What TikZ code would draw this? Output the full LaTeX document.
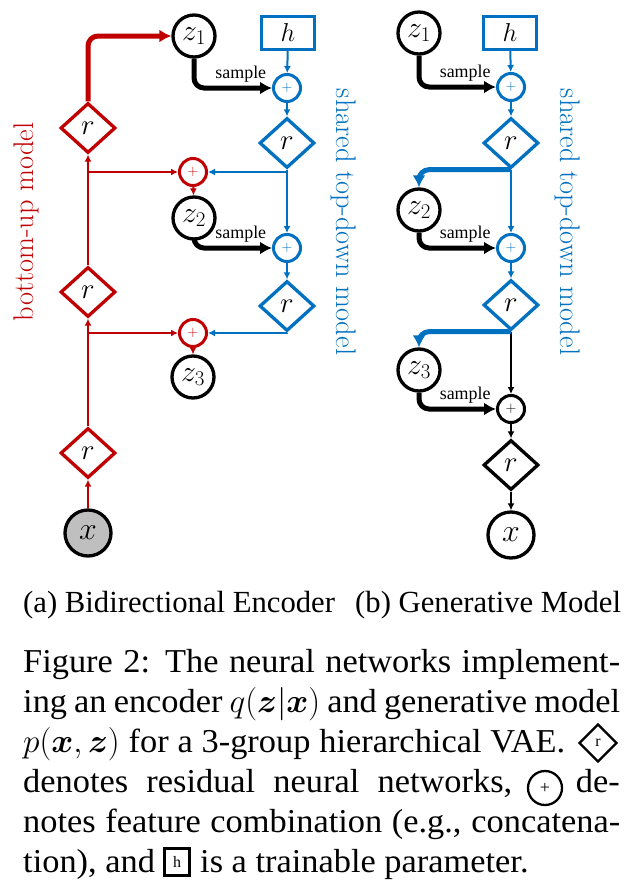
\RequirePackage{fix-cm}
\documentclass[tikz,border=0pt]{standalone}
\usepackage{amsmath}
\usepackage{fontspec}
\newfontfamily\capfont{Liberation Serif}
\newfontfamily\capwide[FakeStretch=1.03]{Liberation Serif}
\usetikzlibrary{shapes.geometric,arrows.meta}
\definecolor{encred}{RGB}{192,0,0}
\definecolor{decblue}{RGB}{0,112,192}
\definecolor{obsgray}{RGB}{191,191,191}

\begin{document}
\begin{tikzpicture}[x=1bp,y=-1bp,
  latent/.style={circle,draw=black,line width=3.3bp,minimum size=42bp,inner sep=0pt,font=\fontsize{30}{30}\selectfont},
  observed/.style={circle,draw=black,line width=3.3bp,minimum size=46bp,inner sep=0pt,font=\fontsize{32}{32}\selectfont},
  resblock/.style={diamond,draw=#1,line width=3.3bp,minimum width=55bp,minimum height=50bp,inner sep=0pt,font=\fontsize{29}{29}\selectfont},
  combine/.style={circle,draw=#1,text=#1,line width=3bp,minimum size=27bp,inner sep=0pt,font=\fontsize{15}{15}\selectfont},
  param/.style={rectangle,draw=decblue,line width=3.3bp,minimum width=53bp,minimum height=33bp,inner sep=0pt,font=\fontsize{26}{26}\selectfont},
  thinarrow/.style={draw=#1,line width=2bp,-{Latex[length=7bp,width=7bp]}},
  thickarrow/.style={draw=#1,line width=5bp,rounded corners=10bp,-{Latex[length=12bp,width=13bp]}},
  samplelabel/.style={font=\capfont\fontsize{18}{18}\selectfont,above,inner sep=3bp},
  sidelabel/.style={font=\fontsize{28.5}{28.5}\selectfont,anchor=base},
  subcap/.style={font=\capfont\fontsize{30.8}{30.8}\selectfont,anchor=base west,inner sep=0pt},
  capline/.style={font=\capwide\fontsize{33.5}{40}\selectfont,anchor=base west,inner sep=0pt},
  capright/.style={font=\capwide\fontsize{33.5}{40}\selectfont,anchor=base east,inner sep=0pt},
  capsym/.style={draw=black,line width=2.3bp,inner sep=0pt,font=\capfont\fontsize{16}{16}\selectfont}
]
\useasboundingbox (0,0) rectangle (635,894);

% ---------------- (a) bidirectional encoder ----------------
\node[latent] (z1a) at (194,36) {$z_1$};
\node[param] (ha) at (288,33) {$h$};
\node[combine=decblue] (pa1) at (287,88) {+};
\node[resblock=decblue] (da1) at (287,143) {$r$};
\node[combine=encred] (qa1) at (193,172) {+};
\node[latent] (z2a) at (194,218) {$z_2$};
\node[combine=decblue] (pa2) at (287,248) {+};
\node[resblock=decblue] (da2) at (287,306) {$r$};
\node[combine=encred] (qa2) at (193,333) {+};
\node[latent] (z3a) at (193,377) {$z_3$};
\node[resblock=encred] (ra1) at (88,128) {$r$};
\node[resblock=encred] (ra2) at (88,292) {$r$};
\node[resblock=encred] (ra3) at (88,453) {$r$};
\node[observed,fill=obsgray] (xa) at (88,533) {$x$};

% bottom-up path
\draw[thinarrow=encred] (xa) -- (ra3);
\draw[thinarrow=encred] (ra3) -- (ra2);
\draw[thinarrow=encred] (ra2) -- (ra1);
\draw[thinarrow=encred] (ra3.north |- qa2) -- (qa2.west);
\draw[thinarrow=encred] (ra2.north |- qa1) -- (qa1.west);
\draw[thickarrow=encred] (ra1.north) |- (z1a.west);
\draw[thinarrow=encred] (qa1) -- (z2a);
\draw[thinarrow=encred] (qa2) -- (z3a);

% top-down path
\draw[thinarrow=decblue] (ha) -- (pa1);
\draw[thinarrow=decblue] (pa1) -- (da1);
\draw[thinarrow=decblue] (da1) -- (pa2);
\draw[thinarrow=decblue] (pa2) -- (da2);
\draw[thinarrow=decblue] (da1.south) |- (qa1.east);
\draw[thinarrow=decblue] (da2.south) |- (qa2.east);
\draw[thickarrow=black] (z1a.south) |- node[samplelabel,pos=0.8] {sample} (pa1.west);
\draw[thickarrow=black] (z2a.south) |- node[samplelabel,pos=0.8] {sample} (pa2.west);

\node[sidelabel,rotate=90,text=encred] (bulabel) at (33,222) {bottom-up model};
\node[sidelabel,rotate=-90,text=decblue] (tdlabela) at (336,222) {shared top-down model};

% ---------------- (b) generative model ----------------
\node[latent] (z1b) at (419,33) {$z_1$};
\node[param] (hb) at (510,33) {$h$};
\node[combine=decblue] (pb1) at (511,87) {+};
\node[resblock=decblue] (db1) at (511,143) {$r$};
\node[latent] (z2b) at (419,210) {$z_2$};
\node[combine=decblue] (pb2) at (511,248) {+};
\node[resblock=decblue] (db2) at (511,305) {$r$};
\node[latent] (z3b) at (419,370) {$z_3$};
\node[combine=black] (pb3) at (511,409) {+};
\node[resblock=black] (db3) at (511,465) {$r$};
\node[observed] (xb) at (511,535) {$x$};

\draw[thinarrow=decblue] (hb) -- (pb1);
\draw[thinarrow=decblue] (pb1) -- (db1);
\draw[thinarrow=decblue] (db1) -- (pb2);
\draw[thinarrow=decblue] (pb2) -- (db2);
\draw[thinarrow=black] (db2) -- (pb3);
\draw[thinarrow=black] (pb3) -- (db3);
\draw[thinarrow=black] (db3) -- (xb);
\draw[thickarrow=decblue] (db1.south) -| (z2b.north);
\draw[thickarrow=decblue] (db2.south) -| (z3b.north);
\draw[thickarrow=black] (z1b.south) |- node[samplelabel,pos=0.8] {sample} (pb1.west);
\draw[thickarrow=black] (z2b.south) |- node[samplelabel,pos=0.8] {sample} (pb2.west);
\draw[thickarrow=black] (z3b.south) |- node[samplelabel,pos=0.8] {sample} (pb3.west);

\node[sidelabel,rotate=-90,text=decblue] (tdlabelb) at (560,222) {shared top-down model};

% ---------------- captions ----------------
\node[subcap] (capa) at (23,612) {(a) Bidirectional Encoder};
\node[subcap] (capb) at (355,612) {(b) Generative Model};

\node[capline] (l1) at (23,672) {\makebox[597bp][s]{Figure 2: The neural networks implement-}};
\node[capline] (l2) at (23,712) {\makebox[597bp][s]{ing an encoder $q(\boldsymbol{z}|\boldsymbol{x})$ and generative model}};
\node[capline] (l3) at (23,752) {\makebox[542bp][s]{$p(\boldsymbol{x},\boldsymbol{z})$ for a 3-group hierarchical VAE.}};
\node[capsym,diamond,minimum width=38bp,minimum height=38bp] (symres) at (598,743) {r};
\node[capline] (l4) at (23,792) {\makebox[489bp][s]{denotes residual neural networks,}};
\node[capsym,circle,minimum size=34bp,font=\capfont\fontsize{18}{18}\selectfont] (symcomb) at (545,788) {+};
\node[capright] (l4b) at (620,792) {de-};
\node[capline] (l5) at (23,832) {\makebox[597bp][s]{notes feature combination (e.g., concatena-}};
\node[capline] (l6) at (23,872) {tion), and};
\node[capsym,rectangle,minimum width=25bp,minimum height=27bp] (sympar) at (177,862) {h};
\node[capline] (l6b) at (200,872) {is a trainable parameter.};
\end{tikzpicture}
\end{document}
